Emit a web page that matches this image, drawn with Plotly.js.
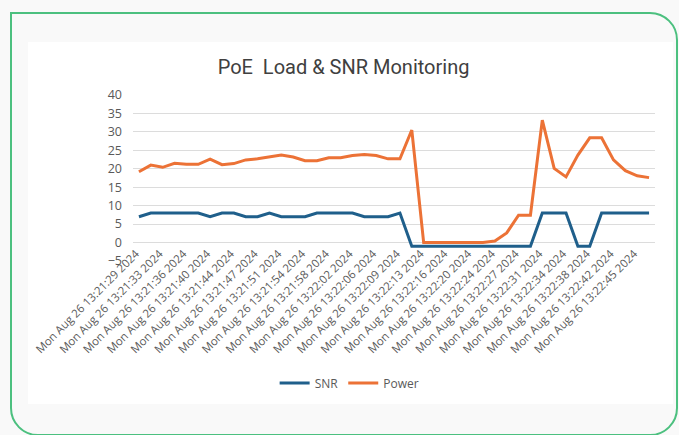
<!DOCTYPE html>
<html>
<head>
<meta charset="utf-8">
<script src="https://cdn.plot.ly/plotly-3.0.1.min.js"></script>
<style>
  html, body { margin: 0; padding: 0; background: #ffffff; }
  #wrap { position: relative; width: 679px; height: 435px; overflow: hidden; background: #f9f9f9; }
  #card { position: absolute; left: 28px; top: 42px; width: 645px; height: 362px; background: #ffffff; }
  #chart { position: absolute; left: 0; top: 0; width: 679px; height: 435px; }
  #frame { position: absolute; left: 10px; top: 12px; width: 664px; height: 420px;
           border: 2.5px solid #4cc07f; border-radius: 0 28px 28px 28px; pointer-events: none; }
</style>
</head>
<body>
<div id="wrap">
  <div id="card"></div>
  <div id="chart"></div>
  <div id="frame"></div>
</div>
<script>
// Tick labels (every other sample is labelled)
const tickLabels = [
  "Mon Aug 26 13:21:29 2024", "Mon Aug 26 13:21:33 2024", "Mon Aug 26 13:21:36 2024",
  "Mon Aug 26 13:21:40 2024", "Mon Aug 26 13:21:44 2024", "Mon Aug 26 13:21:47 2024",
  "Mon Aug 26 13:21:51 2024", "Mon Aug 26 13:21:54 2024", "Mon Aug 26 13:21:58 2024",
  "Mon Aug 26 13:22:02 2024", "Mon Aug 26 13:22:06 2024", "Mon Aug 26 13:22:09 2024",
  "Mon Aug 26 13:22:13 2024", "Mon Aug 26 13:22:16 2024", "Mon Aug 26 13:22:20 2024",
  "Mon Aug 26 13:22:24 2024", "Mon Aug 26 13:22:27 2024", "Mon Aug 26 13:22:31 2024",
  "Mon Aug 26 13:22:34 2024", "Mon Aug 26 13:22:38 2024", "Mon Aug 26 13:22:42 2024",
  "Mon Aug 26 13:22:45 2024"
];

const snr = [
  7, 8, 8, 8, 8, 8, 7, 8, 8, 7, 7, 8, 7, 7, 7, 8, 8, 8, 8, 7, 7, 7, 8,
  -1, -1, -1, -1, -1, -1, -1, -1, -1, -1, -1,
  8, 8, 8, -1, -1, 8, 8, 8, 8, 8
];

const power = [
  19.2, 21.0, 20.4, 21.5, 21.2, 21.2, 22.6, 21.1, 21.4, 22.4, 22.7, 23.2,
  23.7, 23.2, 22.2, 22.2, 23.0, 23.0, 23.6, 23.9, 23.6, 22.7, 22.7, 30.5,
  0, 0, 0, 0, 0, 0, 0.4, 2.6, 7.4, 7.4, 33.2, 20.1, 17.8, 23.7, 28.4, 28.4,
  22.4, 19.5, 18.1, 17.6
];

const idx = power.map((_, i) => i);
const tickIdx = tickLabels.map((_, i) => i * 2);

const gray = "#595959";

const traces = [
  { x: idx, y: snr, name: "SNR", type: "scatter", mode: "lines",
    line: { color: "#1f5f8b", width: 3 } },
  { x: idx, y: power, name: "Power", type: "scatter", mode: "lines",
    line: { color: "#ec7236", width: 3 } }
];

const layout = {
  width: 679, height: 435,
  paper_bgcolor: "rgba(0,0,0,0)",
  plot_bgcolor: "rgba(0,0,0,0)",
  margin: { l: 133, r: 24, t: 95, b: 174, pad: 0 },
  font: { family: "Open Sans, sans-serif", color: gray, size: 11 },
  title: {
    text: "PoE  Load & SNR Monitoring",
    x: 0.506, xref: "container", xanchor: "center",
    y: 0.845, yref: "container", yanchor: "middle",
    font: { family: "Roboto, sans-serif", size: 20, color: "#404040" }
  },
  xaxis: {
    range: [-0.5, idx.length - 0.5],
    tickmode: "array", tickvals: tickIdx, ticktext: tickLabels,
    tickangle: -45, showgrid: false, zeroline: false, showline: false,
    ticks: "", ticklabelstandoff: -17, ticklabelshift: -3,
    tickfont: { size: 11.4, color: gray }, fixedrange: true
  },
  yaxis: {
    range: [-5, 40], tickmode: "array",
    tickvals: [-5, 0, 5, 10, 15, 20, 25, 30, 35, 40],
    showgrid: true, gridcolor: "#dcdcdc", gridwidth: 1,
    zeroline: false, showline: false, ticks: "",
    ticklabelstandoff: 10,
    tickfont: { size: 12.5, color: gray }, fixedrange: true
  },
  showlegend: true,
  legend: {
    orientation: "h", x: 0.415, xanchor: "center", y: -0.735, yanchor: "middle",
    font: { size: 12, color: gray }, bgcolor: "rgba(0,0,0,0)",
    itemwidth: 30, tracegroupgap: 0
  }
};

Plotly.newPlot("chart", traces, layout, { displayModeBar: false, staticPlot: true });
</script>
</body>
</html>
